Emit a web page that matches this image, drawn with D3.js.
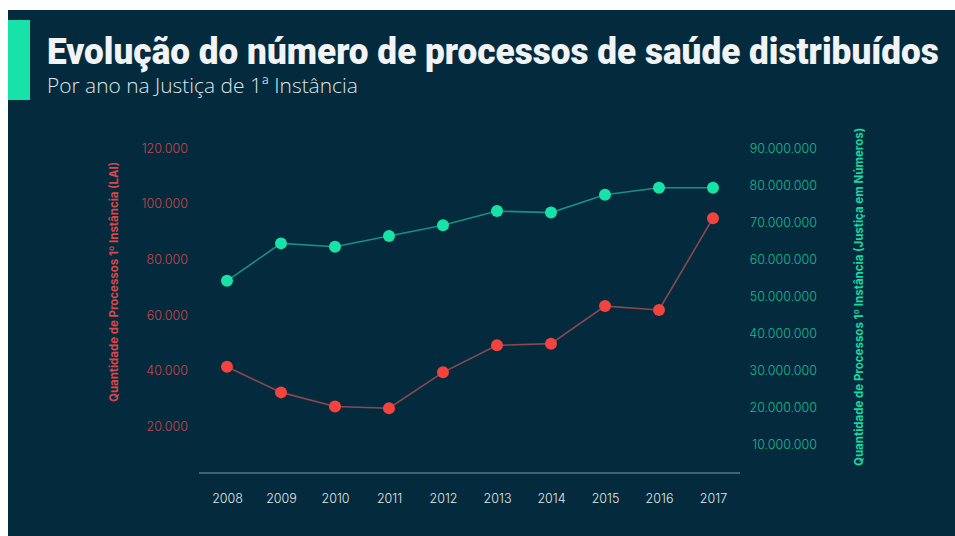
<!doctype html>
<html>
  <head>
    <meta charset="utf-8">
    <title>Processos de saúde</title>
    <script src="https://d3js.org/d3.v7.min.js"></script>
    <style type="text/css">
      body { margin: 0; background-color: #ffffff; }
      svg { display: block; }
    </style>
  </head>
  <body>
    <script>
      // data
      var years = ["2008", "2009", "2010", "2011", "2012", "2013", "2014", "2015", "2016", "2017"];
      var lai = [41400, 32200, 27100, 26500, 39400, 49100, 49700, 63200, 61800, 94800];
      var justica = [54200000, 64300000, 63400000, 66300000, 69200000, 73000000, 72600000, 77400000, 79300000, 79300000];
      var leftTicks = [20000, 40000, 60000, 80000, 100000, 120000];
      var rightTicks = [10000000, 20000000, 30000000, 40000000, 50000000, 60000000, 70000000, 80000000, 90000000];

      var w = 955, h = 536;
      var bg = "#042b3d", green = "#17e2a8", red = "#f2433f";

      var svg = d3.select("body").append("svg")
        .attr("width", w).attr("height", h);

      // dark panel and accent bar
      svg.append("rect").attr("x", 8).attr("y", 10).attr("width", w - 8).attr("height", h - 10).attr("fill", bg);
      svg.append("rect").attr("x", 8).attr("y", 20).attr("width", 22).attr("height", 80).attr("fill", green);

      // squeeze a text horizontally to a target width
      function fitWidth(sel, x0, y0, target) {
        var natural = sel.node().getComputedTextLength();
        sel.attr("transform", "translate(" + x0 + "," + y0 + ") scale(" + (target / natural) + ",1)");
      }

      var title = svg.append("text")
        .style("font-family", "Roboto, 'Open Sans', sans-serif")
        .style("font-weight", "900").style("font-size", "37px")
        .style("fill", "#f1f3f4")
        .text("Evolução do número de processos de saúde distribuídos");
      fitWidth(title, 47, 64, 892);

      var sub = svg.append("text")
        .style("font-family", "'Open Sans', sans-serif")
        .style("font-weight", "300").style("font-size", "21px")
        .style("fill", "#dfe5e8")
        .text("Por ano na Justiça de 1ª Instância");
      fitWidth(sub, 47, 93, 311);

      // scales
      var x = d3.scalePoint().domain(years).range([227, 713]);
      var yL = d3.scaleLinear().domain([0, 120000]).range([482, 148]);
      var yR = d3.scaleLinear().domain([0, 90000000]).range([482, 148]);
      var fmt = function(v) { return d3.format(",")(v).replace(/,/g, "."); };

      var font = "Inter, 'Open Sans', sans-serif";

      // left axis
      var gL = svg.append("g").attr("transform", "translate(188,0)")
        .call(d3.axisLeft(yL).tickValues(leftTicks).tickFormat(fmt).tickSize(0).tickPadding(0));
      gL.select(".domain").remove();
      gL.selectAll("text").style("font-family", font).style("font-size", "12.5px")
        .style("fill", "#c9464b").style("font-weight", "300");

      // right axis
      var gR = svg.append("g").attr("transform", "translate(817,0)")
        .call(d3.axisLeft(yR).tickValues(rightTicks).tickFormat(fmt).tickSize(0).tickPadding(0));
      gR.select(".domain").remove();
      gR.selectAll("text").style("font-family", font).style("font-size", "12.5px")
        .style("fill", "#1cb896").style("font-weight", "300");

      // x axis
      var gX = svg.append("g").attr("transform", "translate(0,473)")
        .call(d3.axisBottom(x).tickSize(0).tickPadding(21));
      gX.select(".domain").remove();
      gX.append("line").attr("x1", 199).attr("x2", 740).attr("stroke", "#7f9cae").attr("stroke-width", 1.2);
      gX.selectAll("text").style("font-family", font).style("font-size", "12.5px")
        .style("fill", "#e2e8eb").style("font-weight", "300");

      // axis titles
      svg.append("text")
        .attr("transform", "translate(118,282) rotate(-90)")
        .attr("text-anchor", "middle")
        .attr("textLength", 240).attr("lengthAdjust", "spacingAndGlyphs")
        .style("font-family", font).style("font-weight", "700").style("font-size", "12px")
        .style("fill", "#d9474b")
        .text("Quantidade de Processos 1º Instância (LAI)");

      svg.append("text")
        .attr("transform", "translate(863,297) rotate(-90)")
        .attr("text-anchor", "middle")
        .attr("textLength", 338).attr("lengthAdjust", "spacingAndGlyphs")
        .style("font-family", font).style("font-weight", "700").style("font-size", "12px")
        .style("fill", "#17d9a2")
        .text("Quantidade de Processos 1º Instância (Justiça em Números)");

      // lines
      var lineL = d3.line().x(function(d, i) { return x(years[i]); }).y(function(d) { return yL(d); });
      var lineR = d3.line().x(function(d, i) { return x(years[i]); }).y(function(d) { return yR(d); });

      svg.append("path").attr("d", lineR(justica))
        .attr("fill", "none").attr("stroke", "#1a8f82").attr("stroke-width", 1.6);
      svg.append("path").attr("d", lineL(lai))
        .attr("fill", "none").attr("stroke", "#8a4851").attr("stroke-width", 1.6);

      svg.selectAll(".dotR").data(justica).enter().append("circle")
        .attr("cx", function(d, i) { return x(years[i]); })
        .attr("cy", function(d) { return yR(d); })
        .attr("r", 6).attr("fill", green);

      svg.selectAll(".dotL").data(lai).enter().append("circle")
        .attr("cx", function(d, i) { return x(years[i]); })
        .attr("cy", function(d) { return yL(d); })
        .attr("r", 6).attr("fill", red);
    </script>
  </body>
</html>
